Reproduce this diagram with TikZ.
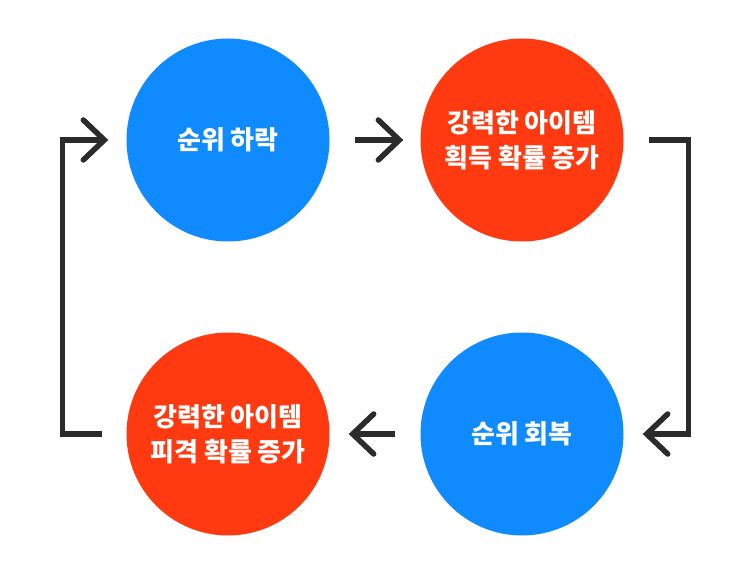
\documentclass[tikz,border=0pt]{standalone}
\usepackage{fontspec}
\newfontfamily\kr{Noto Sans CJK KR}
\usetikzlibrary{calc}
\definecolor{cblue}{HTML}{0F8BFF}
\definecolor{cred}{HTML}{FF3A10}
\definecolor{cline}{HTML}{2B2B2B}
\begin{document}
\begin{tikzpicture}[x=1pt,y=-1pt,
  bubble/.style={circle,minimum size=203pt,inner sep=0pt,text=white,
    font=\kr\bfseries\fontsize{26}{35}\selectfont,align=center},
  conn/.style={draw=cline,line width=5.5pt,line join=miter,line cap=butt},
  chev/.style={draw=cline,line width=5.5pt,line cap=round,line join=miter}]
\useasboundingbox (0,0) rectangle (750,572);
\node[bubble,fill=cblue] (a) at (228,140) {순위 하락};
\node[bubble,fill=cred]  (b) at (522,140) {강력한 아이템\\획득 확률 증가};
\node[bubble,fill=cblue] (c) at (522,434) {순위 회복};
\node[bubble,fill=cred]  (d) at (228,434) {강력한 아이템\\피격 확률 증가};
% top arrow a -> b
\coordinate (abs) at ($(a.east)+(25,0)$);
\coordinate (abt) at ($(b.west)+(-21,0)$);
\draw[conn] (abs) -- ($(abt)+(-3,0)$);
\draw[chev] ($(abt)+(-21,-20)$) -- (abt) -- ($(abt)+(-21,20)$);
% right connector b -> c
\coordinate (bcs) at ($(b.east)+(25,0)$);
\coordinate (bct) at ($(c.east)+(23,0)$);
\draw[conn] (bcs) -- ++(40,0) |- ($(bct)+(3,0)$);
\draw[chev] ($(bct)+(21,-20)$) -- (bct) -- ($(bct)+(21,20)$);
% bottom arrow c -> d
\coordinate (cds) at ($(c.west)+(-25,0)$);
\coordinate (cdt) at ($(d.east)+(23,0)$);
\draw[conn] (cds) -- ($(cdt)+(3,0)$);
\draw[chev] ($(cdt)+(21,-20)$) -- (cdt) -- ($(cdt)+(21,20)$);
% left connector d -> a
\coordinate (das) at ($(d.west)+(-24,0)$);
\coordinate (dat) at ($(a.west)+(-22,0)$);
\draw[conn] (das) -- ++(-40,0) |- ($(dat)+(-3,0)$);
\draw[chev] ($(dat)+(-21,-20)$) -- (dat) -- ($(dat)+(-21,20)$);
\end{tikzpicture}
\end{document}
